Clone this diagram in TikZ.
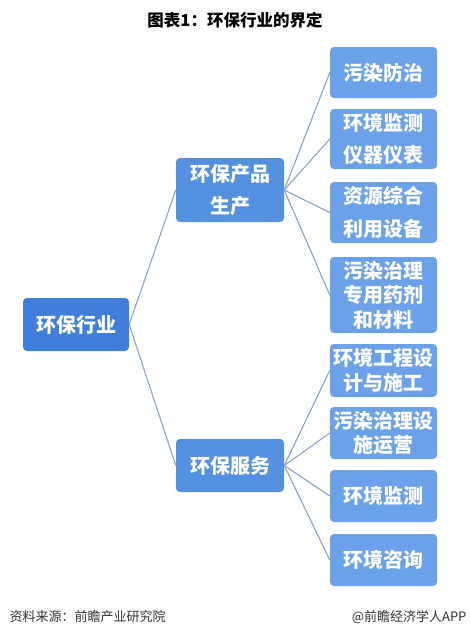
\documentclass[tikz,border=0pt]{standalone}
\usepackage{fontspec}
\setmainfont{Noto Sans CJK SC}
\usepackage{tikz}

\definecolor{rootblue}{HTML}{3F7FDB}
\definecolor{midblue}{HTML}{5390E0}
\definecolor{leafblue}{HTML}{6AA1E8}
\definecolor{linkblue}{HTML}{8AA2C6}
\definecolor{notegray}{HTML}{333333}

\begin{document}
\begin{tikzpicture}[x=1pt,y=-1pt,
        box/.style={rounded corners=4pt,text=white,align=center,inner sep=0pt,
                    font=\fontsize{20}{24.5}\selectfont\bfseries},
        rootbox/.style={box,fill=rootblue,minimum width=106pt,minimum height=53pt},
        midbox/.style={box,fill=midblue,minimum width=108pt},
        leafbox/.style={box,fill=leafblue,minimum width=107pt},
        link/.style={draw=linkblue,line width=1.1pt}]

    \useasboundingbox (0,0) rectangle (470,638);

    \node (title) at (235,20) {\fontsize{16.5}{20}\selectfont\bfseries 图表1：环保行业的界定};

    % root and middle level
    \node[rootbox] (hb) at (76,324.5) {环保行业};
    \node[midbox,minimum height=64pt] (cp) at (230,190) {环保产品\\[7pt]生产};
    \node[midbox,minimum height=53pt] (fw) at (230,465.5) {环保服务};

    % products
    \node[leafbox,minimum height=51pt] (wr) at (383.5,72.5) {污染防治};
    \node[leafbox,minimum height=60pt] (yq) at (383.5,139) {环境监测\\[8pt]仪器仪表};
    \node[leafbox,minimum height=61pt] (zy) at (383.5,212.5) {资源综合\\[8pt]利用设备};
    \node[leafbox,minimum height=76pt] (yj) at (383.5,295) {污染治理\\专用药剂\\和材料};

    % services
    \node[leafbox,minimum height=53pt] (gc) at (383.5,370.5) {环境工程设\\计与施工};
    \node[leafbox,minimum height=52pt] (yy) at (383.5,433) {污染治理设\\施运营};
    \node[leafbox,minimum height=52pt] (jc) at (383.5,496) {环境监测};
    \node[leafbox,minimum height=52pt] (zx) at (383.5,560) {环境咨询};

    \draw[link] (hb.east) -- (cp.west);
    \draw[link] (hb.east) -- (fw.west);
    \draw[link] (cp.east) -- (wr.west);
    \draw[link] (cp.east) -- (yq.west);
    \draw[link] (cp.east) -- (zy.west);
    \draw[link] (cp.east) -- (yj.west);
    \draw[link] (fw.east) -- (gc.west);
    \draw[link] (fw.east) -- (yy.west);
    \draw[link] (fw.east) -- (jc.west);
    \draw[link] (fw.east) -- (zx.west);

    \node[anchor=west,text=notegray,font=\fontsize{13}{16}\selectfont] (src) at (6,617) {资料来源：前瞻产业研究院};
    \node[anchor=east,text=notegray,font=\fontsize{13}{16}\selectfont] (app) at (470,617) {@前瞻经济学人APP};
\end{tikzpicture}
\end{document}
